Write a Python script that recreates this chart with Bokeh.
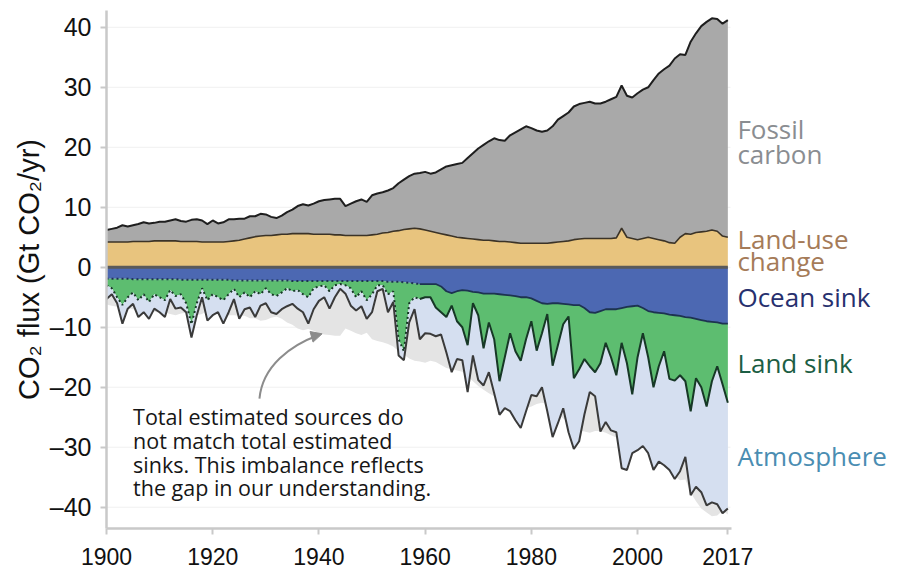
import numpy as np
from bokeh.plotting import figure
from bokeh.models import Range1d, Label, FixedTicker, Arrow, NormalHead
from bokeh.embed import file_html
from bokeh.resources import INLINE

# ---------------- data (Gt CO2 / yr) ----------------
years = list(range(1900, 2018))

fossil = [
    2.0, 2.2, 2.4, 2.8, 2.6, 2.7, 2.9, 3.2, 3.0, 3.0,
    3.2, 3.2, 3.4, 3.6, 3.4, 3.3, 3.6, 3.7, 3.6, 3.0,
    3.6, 3.1, 3.3, 3.7, 3.6, 3.6, 3.4, 3.6, 3.4, 3.7,
    3.5, 3.1, 2.8, 3.1, 3.7, 4.0, 4.6, 4.9, 4.7, 5.1,
    5.5, 5.7, 5.8, 6.0, 6.0, 4.9, 5.3, 5.7, 6.0, 5.6,
    6.6, 6.8, 6.8, 7.0, 7.2, 7.9, 8.3, 8.8, 9.1, 9.3,
    9.7, 9.6, 10.0, 10.7, 11.4, 11.8, 12.2, 12.5, 13.4, 14.3,
    15.2, 15.9, 16.5, 17.1, 16.9, 16.8, 17.8, 18.4, 19.0, 19.5,
    19.2, 18.8, 18.6, 18.8, 19.4, 20.4, 20.9, 21.4, 22.2, 22.5,
    22.6, 22.8, 22.5, 22.5, 22.8, 23.2, 23.5, 23.8, 23.6, 23.5,
    24.4, 24.8, 25.0, 26.4, 27.7, 28.6, 29.5, 30.8, 30.5, 29.8,
    32.1, 33.2, 34.3, 34.9, 35.3, 35.4, 35.4, 36.2,
]

land_use_change = [
    4.2, 4.2, 4.2, 4.2, 4.2, 4.3, 4.3, 4.3, 4.3, 4.4,
    4.4, 4.4, 4.4, 4.4, 4.3, 4.3, 4.3, 4.3, 4.2, 4.2,
    4.2, 4.2, 4.2, 4.3, 4.4, 4.5, 4.7, 4.9, 5.1, 5.2,
    5.3, 5.3, 5.4, 5.5, 5.5, 5.6, 5.6, 5.6, 5.6, 5.5,
    5.5, 5.5, 5.5, 5.4, 5.4, 5.3, 5.3, 5.3, 5.3, 5.3,
    5.4, 5.5, 5.7, 5.8, 6.0, 6.1, 6.3, 6.4, 6.5, 6.4,
    6.2, 6.0, 5.8, 5.6, 5.4, 5.2, 5.0, 4.9, 4.8, 4.7,
    4.6, 4.5, 4.5, 4.4, 4.3, 4.3, 4.2, 4.1, 4.0, 4.0,
    4.0, 4.0, 4.0, 4.0, 4.1, 4.2, 4.3, 4.4, 4.6, 4.7,
    4.8, 4.8, 4.8, 4.8, 4.8, 4.8, 4.9, 6.5, 5.0, 4.8,
    4.6, 4.8, 5.0, 4.8, 4.6, 4.4, 4.1, 4.0, 5.0, 5.6,
    5.5, 5.8, 5.9, 6.0, 6.2, 6.0, 5.2, 5.0,
]

ocean_sink = [
    1.9, 1.9, 1.9, 1.9, 1.9, 2.0, 2.0, 2.0, 2.0, 2.0,
    2.0, 2.0, 2.0, 2.0, 2.1, 2.1, 2.1, 2.1, 2.1, 2.1,
    2.1, 2.1, 2.1, 2.1, 2.2, 2.2, 2.2, 2.2, 2.2, 2.2,
    2.2, 2.2, 2.2, 2.2, 2.2, 2.3, 2.3, 2.3, 2.3, 2.3,
    2.3, 2.3, 2.3, 2.3, 2.3, 2.3, 2.3, 2.3, 2.3, 2.3,
    2.3, 2.3, 2.3, 2.4, 2.4, 2.4, 2.5, 2.6, 2.7, 2.8,
    2.8, 2.8, 2.8, 3.2, 4.0, 4.3, 4.0, 3.8, 3.9, 4.1,
    4.2, 4.4, 4.4, 4.4, 4.5, 4.6, 4.7, 4.8, 5.0, 5.0,
    5.2, 5.6, 6.0, 6.1, 6.0, 6.0, 6.1, 6.2, 6.3, 6.3,
    6.8, 7.5, 7.6, 7.3, 7.0, 7.0, 7.0, 6.8, 6.6, 6.5,
    6.4, 6.8, 7.3, 7.5, 7.6, 7.7, 7.9, 8.0, 8.1, 8.3,
    8.4, 8.6, 8.8, 9.0, 9.1, 9.2, 9.4, 9.4,
]

land_sink = [
    1.1, 1.6, 3.1, 4.4, 3.1, 2.2, 3.5, 2.5, 3.8, 2.5,
    3.0, 3.5, 1.8, 2.8, 2.4, 3.9, 7.4, 3.9, 1.4, 3.4,
    2.4, 2.9, 3.4, 2.4, 1.4, 2.8, 2.0, 2.8, 1.8, 2.3,
    1.3, 2.3, 2.6, 2.0, 1.3, 1.7, 1.5, 2.2, 2.7, 1.2,
    0.9, 0.7, 1.7, 0.7, 0.5, 0.7, 1.2, 2.7, 1.7, 3.2,
    2.2, 0.7, 0.7, 2.1, 1.6, 9.6, 11.5, 3.4, 2.3, 2.5,
    2.2, 2.2, 3.9, 4.3, 4.3, 2.1, 5.0, 6.2, 9.1, 1.9,
    3.8, 9.1, 4.8, 7.6, 14.5, 10.4, 6.3, 9.2, 10.6, 7.0,
    3.8, 8.3, 5.0, 1.7, 10.4, 7.0, 3.4, 2.0, 12.2, 10.7,
    8.5, 9.0, 9.9, 8.7, 5.6, 8.0, 11.0, 5.8, 9.4, 14.7,
    8.6, 4.2, 7.7, 12.5, 8.9, 6.3, 10.7, 10.9, 9.9, 10.7,
    15.6, 9.9, 11.2, 14.2, 9.9, 7.3, 10.1, 13.2,
]

atmosphere = [
    2.3, 1.0, 1.0, 3.1, 1.9, 1.9, 2.8, 3.0, 2.8, 2.4,
    2.5, 2.8, 1.5, 2.1, 2.2, 1.5, 2.2, 2.0, 1.5, 3.4,
    3.5, 2.5, 3.9, 3.0, 1.7, 3.6, 2.8, 1.7, 4.3, 1.9,
    2.5, 3.0, 3.0, 2.8, 3.0, 2.1, 3.1, 3.0, 4.4, 3.5,
    2.4, 2.0, 2.9, 2.0, 0.8, 1.4, 2.9, 2.2, 2.5, 3.1,
    3.0, 1.0, 0.6, 3.0, 1.8, 2.7, 1.5, 3.2, 2.0, 6.7,
    6.0, 6.1, 4.8, 3.7, 5.9, 11.1, 6.3, 5.5, 7.8, 8.7,
    10.8, 6.2, 8.3, 9.0, 5.6, 8.5, 13.0, 11.5, 11.2, 12.0,
    12.3, 7.6, 9.0, 16.2, 11.9, 13.0, 14.0, 19.3, 11.8, 12.0,
    9.2, 4.3, 4.0, 11.4, 13.2, 12.2, 9.5, 20.9, 17.8, 9.8,
    15.5, 18.8, 16.0, 13.8, 15.9, 19.0, 15.2, 16.4, 16.0, 12.6,
    14.0, 18.1, 17.5, 16.5, 20.2, 23.0, 21.5, 17.6,
]

x_ticks = [1900, 1920, 1940, 1960, 1980, 2000, 2017]
y_ticks = [-40, -30, -20, -10, 0, 10, 20, 30, 40]
observed_from = 1959  # boundaries drawn dotted before this year

# ---------------- stacking ----------------
yrs = np.array(years, dtype=float)
fos = np.array(fossil)
luc = np.array(land_use_change)
oce = np.array(ocean_sink)
lnd = np.array(land_sink)
atm = np.array(atmosphere)

src_top = luc + fos
ocean_b = -oce
land_b = -(oce + lnd)
atm_b = -(oce + lnd + atm)

# frame spans the plot and the label column on the right
px_per_year = 624 / 117.5
frame_w = 783
x_end = 1900 + frame_w / px_per_year

p = figure(frame_width=frame_w, frame_height=518,
           x_range=Range1d(1900, x_end), y_range=Range1d(-43.55, 42.8),
           output_backend="svg", toolbar_location=None,
           min_border_left=106, min_border_top=10, min_border_right=0,
           min_border_bottom=40)
p.outline_line_color = None
p.background_fill_color = "white"
p.border_fill_color = "white"
p.xgrid.visible = False
p.ygrid.visible = False

# faint horizontal grid within the data span
p.segment(x0=years[0], x1=2017.5, y0=y_ticks, y1=y_ticks,
          line_color="#f0f0f0", line_width=1)

# budget imbalance backdrop (mirror of the total sources)
p.varea(x=yrs, y1=0, y2=-src_top, fill_color="#e4e4e4")

# sources
p.varea(x=yrs, y1=0, y2=luc, fill_color="#e8c47e")
p.varea(x=yrs, y1=luc, y2=src_top, fill_color="#a9a9a9")

# sinks
p.varea(x=yrs, y1=0, y2=ocean_b, fill_color="#4c68b2")
p.varea(x=yrs, y1=ocean_b, y2=land_b, fill_color="#5dbd70")
p.varea(x=yrs, y1=land_b, y2=atm_b, fill_color="#d5dff0")

early = yrs <= observed_from
late = yrs >= observed_from

p.line(yrs, src_top, line_color="#1e1e1e", line_width=2)
p.line(yrs, luc, line_color="#3b3327", line_width=1.6)

p.line(yrs[early], ocean_b[early], line_color="#1d3350", line_width=2, line_dash="2 3")
p.line(yrs[late], ocean_b[late], line_color="#1d3350", line_width=1.8)
p.line(yrs[early], land_b[early], line_color="#173826", line_width=2, line_dash="2 3")
p.line(yrs[late], land_b[late], line_color="#173826", line_width=2)
p.line(yrs, atm_b, line_color="#3a3a3a", line_width=2)

# zero line
p.line(yrs, np.zeros_like(yrs), line_color="#5a5a5a", line_width=3)

# ---------------- axes ----------------
for ax in (p.xaxis[0], p.yaxis[0]):
    ax.axis_line_color = "#c9c9c9"
    ax.axis_line_width = 2.5
    ax.major_tick_line_color = "#c9c9c9"
    ax.major_tick_line_width = 2
    ax.major_tick_out = 6
    ax.major_tick_in = 0
    ax.minor_tick_line_color = None
    ax.major_label_text_font = "Liberation Sans"
    ax.major_label_text_color = "#111111"

p.xaxis.major_label_text_font_size = "23px"
p.yaxis.major_label_text_font_size = "25px"
p.xaxis.bounds = (1900, 2017.6)
p.xaxis.ticker = FixedTicker(ticks=x_ticks)
p.xaxis.major_label_standoff = 13
p.yaxis.ticker = FixedTicker(ticks=y_ticks)
p.yaxis.major_label_standoff = 9
p.yaxis.major_label_overrides = {t: ("\u2013%d" % -t if t < 0 else str(t)) for t in y_ticks}
p.yaxis.axis_label = "CO\u2082 flux (Gt CO\u2082/yr)"
p.yaxis.axis_label_text_font = "Liberation Sans"
p.yaxis.axis_label_text_font_size = "29px"
p.yaxis.axis_label_text_font_style = "normal"
p.yaxis.axis_label_text_color = "#111111"
p.yaxis.axis_label_standoff = 2

# ---------------- right-hand series labels ----------------
lab_font = "Open Sans"
series_labels = [
    ("Fossil", 23.1, "#8a8d91"),
    ("carbon", 18.8, "#8a8d91"),
    ("Land-use", 4.7, "#a57b58"),
    ("change", 1.1, "#a57b58"),
    ("Ocean sink", -4.9, "#27306e"),
    ("Land sink", -16.0, "#1c5e44"),
    ("Atmosphere", -31.4, "#4a8db2"),
]
for txt, yv, col in series_labels:
    p.add_layout(Label(x=2018.8, y=yv, text=txt, text_font=lab_font,
                       text_font_size="26px", text_color=col,
                       text_baseline="alphabetic", text_align="left"))

# ---------------- annotation ----------------
note_lines = ["Total estimated sources do",
              "not match total estimated",
              "sinks. This imbalance reflects",
              "the gap in our understanding."]
for i, txt in enumerate(note_lines):
    p.add_layout(Label(x=1905.0, y=-24.9 - 3.95 * i, text=txt, text_font=lab_font,
                       text_font_size="21.5px", text_color="#161616",
                       text_baseline="alphabetic", text_align="left"))

p.bezier(x0=1928.8, y0=-21.9, x1=1940.0, y1=-11.3,
         cx0=1929.4, cy0=-16.4, cx1=1934.7, cy1=-13.0,
         line_color="#8c8c8c", line_width=2)
p.add_layout(Arrow(end=NormalHead(size=11, fill_color="#8c8c8c", line_color="#8c8c8c"),
                   x_start=1938.6, y_start=-11.6, x_end=1940.6, y_end=-11.1,
                   line_color="#8c8c8c", line_width=2))

open("out.html", "w").write(file_html(p, INLINE))
